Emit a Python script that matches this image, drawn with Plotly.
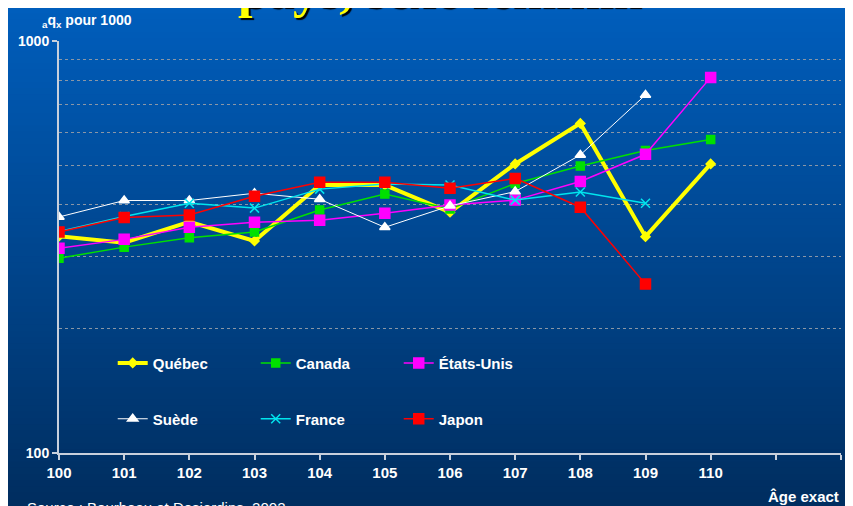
import plotly.graph_objects as go

# quotients de mortalite aqx pour 1000, sexe feminin
ages = [100, 101, 102, 103, 104, 105, 106, 107, 108, 109, 110]
quebec = [336, 324, 364, 327, 447, 447, 384, 503, 631, 335, 503]
canada = [297, 316, 333, 344, 389, 425, 391, 451, 497, 542, 577]
etats_unis = [314, 330, 353, 363, 367, 382, 400, 411, 456, 531, 816]
suede = [374, 410, 410, 427, 413, 353, 398, 431, 529, 740, None]
france = [345, 375, 404, 393, 437, 450, 447, 411, 430, 404, None]
japon = [344, 373, 378, 420, 454, 454, 439, 464, 395, 257, None]

x_ticks = [100, 101, 102, 103, 104, 105, 106, 107, 108, 109, 110, 111, 112]
x_ticktext = ["100", "101", "102", "103", "104", "105", "106", "107", "108", "109", "110", " ", " "]

FONT = "Liberation Sans"

series = [
    ("Québec", quebec, "#FFFF00", 4, "diamond", 7, "legend"),
    ("Canada", canada, "#00E000", 1.5, "square", 8, "legend"),
    ("États-Unis", etats_unis, "#FF00FF", 1.5, "square", 10, "legend"),
    ("Suède", suede, "#FFFFFF", 1, "triangle-up", 9, "legend2"),
    ("France", france, "#00E5EE", 1.5, "x-thin-open", 9, "legend2"),
    ("Japon", japon, "#FF0000", 1.5, "square", 10, "legend2"),
]

fig = go.Figure()
for name, vals, col, w, sym, sz, leg in series:
    fig.add_trace(go.Scatter(
        x=ages, y=vals, name=name, mode="lines+markers",
        line=dict(color=col, width=w),
        marker=dict(symbol=sym, size=sz, color=col, line=dict(color=col, width=1.5)),
        legend=leg
    ))

# fond degrade bleu (figure entiere)
n = 80
shapes = []
y_top, y_bot = 33 / 412.0 + 1, -53 / 412.0
for i in range(n):
    t = i / (n - 1.0)
    r, g, b = 0, int(94 - 48 * t), int(188 - 92 * t)
    y1 = y_top - (y_top - y_bot) * i / n
    y0 = y_top - (y_top - y_bot) * (i + 1.05) / n
    shapes.append(dict(type="rect", xref="paper", yref="paper",
                       x0=-0.08, x1=1.03, y0=y0, y1=y1 + 0.002,
                       fillcolor="rgb(%d,%d,%d)" % (r, g, b),
                       line=dict(width=0), layer="below"))

fig.update_layout(
    width=845, height=498,
    margin=dict(l=46, r=10, t=33, b=53),
    paper_bgcolor="rgb(0,70,145)",
    plot_bgcolor="rgba(0,0,0,0)",
    shapes=shapes,
    font=dict(family=FONT, color="white"),
    legend=dict(orientation="h", x=0.0687, y=0.218, yanchor="middle", xanchor="left",
                bgcolor="rgba(0,0,0,0)", entrywidth=98, entrywidthmode="pixels",
                font=dict(family=FONT, size=15, color="white", weight="bold")),
    legend2=dict(orientation="h", x=0.0687, y=0.0825, yanchor="middle", xanchor="left",
                 bgcolor="rgba(0,0,0,0)", entrywidth=98, entrywidthmode="pixels",
                 font=dict(family=FONT, size=15, color="white", weight="bold")),
    xaxis=dict(range=[100, 112], tickvals=x_ticks, ticktext=x_ticktext,
               ticks="outside", ticklen=5, tickcolor="#C8D0DC", tickwidth=1.5,
               showline=True, linecolor="#C8D0DC", linewidth=2,
               showgrid=False, zeroline=False,
               tickfont=dict(family=FONT, size=15, color="white", weight="bold")),
    yaxis=dict(type="log", range=[2, 3], tickvals=[100, 1000], ticktext=["100", "1000"],
               ticks="outside", ticklen=5, tickcolor="#C8D0DC", tickwidth=1.5,
               showline=True, linecolor="#C8D0DC", linewidth=2,
               showgrid=True, gridcolor="#8A96A6", griddash="dot", gridwidth=1,
               minor=dict(tickvals=[200, 300, 400, 500, 600, 700, 800, 900],
                          showgrid=True, gridcolor="#8A96A6", griddash="dot",
                          gridwidth=1, ticks=""),
               tickfont=dict(family=FONT, size=14, color="white", weight="bold")),
)

fig.add_annotation(text="pays, sexe féminin", xref="paper", yref="paper",
                   x=0.486, y=1.05, xanchor="center", yanchor="bottom", showarrow=False,
                   font=dict(family="Liberation Serif", size=52, color="#FFFF00",
                             weight="bold", shadow="2px 2px 1px black"))
fig.add_annotation(text="<sub>a</sub>q<sub>x</sub> pour 1000", xref="paper", yref="paper",
                   x=-0.024, y=(453 - 21) / 412.0, xanchor="left", yanchor="middle",
                   showarrow=False, font=dict(family=FONT, size=14, color="white", weight="bold"))
fig.add_annotation(text="Âge exact", xref="paper", yref="paper",
                   x=1.0, y=(453 - 496) / 412.0, xanchor="right", yanchor="middle",
                   showarrow=False, font=dict(family=FONT, size=15, color="white", weight="bold"))
fig.add_annotation(text="Source : Bourbeau et Desjardins, 2002", xref="paper", yref="paper",
                   x=-0.043, y=(453 - 497) / 412.0, xanchor="left", yanchor="top",
                   showarrow=False, font=dict(family=FONT, size=15, color="white"))

fig.write_html("out.html")
